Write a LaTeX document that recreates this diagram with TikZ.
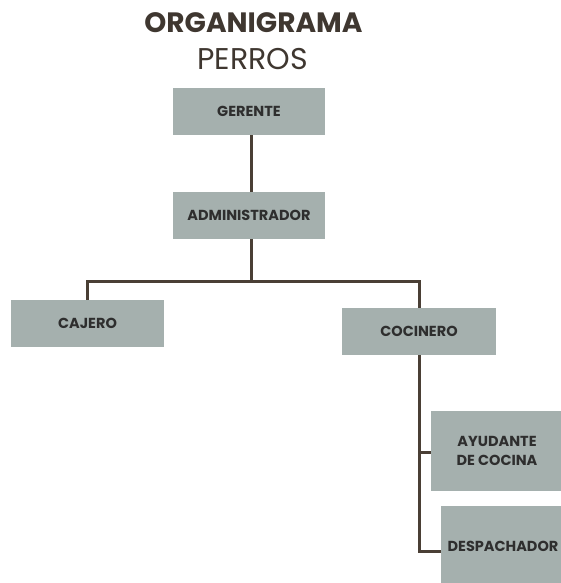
\documentclass[tikz,border=0pt]{standalone}
\usepackage{fontspec}
\setmainfont{Poppins}
\definecolor{boxfill}{HTML}{A5B0AE}
\definecolor{linec}{HTML}{4A3F35}
\definecolor{titlec}{HTML}{3F3730}
\definecolor{txt}{HTML}{2E2E2E}
\begin{document}
\begin{tikzpicture}[x=1pt,y=-1pt,
  role/.style={fill=boxfill,draw=none,inner sep=0pt,align=center,text=txt,
    font=\fontsize{14.5}{19}\selectfont\bfseries},
  conn/.style={draw=linec,line width=3pt}]
\useasboundingbox (0,0) rectangle (561,583);
\node[text=titlec,font=\fontsize{28}{32}\selectfont\bfseries] (t1) at (253.5,23) {ORGANIGRAMA};
\node[text=titlec,font=\fontsize{30}{34}\selectfont] (t2) at (252.5,59) {PERROS};
\node[role,minimum width=152pt,minimum height=47pt] (ger) at (249,111.5) {GERENTE};
\node[role,minimum width=152pt,minimum height=47pt] (adm) at (249,215.5) {ADMINISTRADOR};
\node[role,minimum width=153pt,minimum height=47pt] (caj) at (87.5,323.5) {CAJERO};
\node[role,minimum width=154pt,minimum height=47pt] (coc) at (419,331.5) {COCINERO};
\node[role,minimum width=132pt,minimum height=80pt] (ayu) at (497,451) {AYUDANTE\\DE COCINA};
\node[role,minimum width=124pt,minimum height=80pt] (des) at (503,546) {DESPACHADOR};
\coordinate (j1) at (251,281);
\coordinate (ea) at ([yshift=-1.5pt]ayu.west);
\coordinate (ed) at ([yshift=-5pt]des.west);
\draw[conn] (ger.south -| j1) -- (adm.north -| j1);
\draw[conn] (adm.south -| j1) -- (j1);
\draw[conn,line join=miter] (caj.north -| 87,0) |- (j1) -| (coc.north);
\draw[conn,line join=miter] (coc.south) |- (ed);
\draw[conn] (coc.south |- ea) -- (ea);
\end{tikzpicture}
\end{document}
